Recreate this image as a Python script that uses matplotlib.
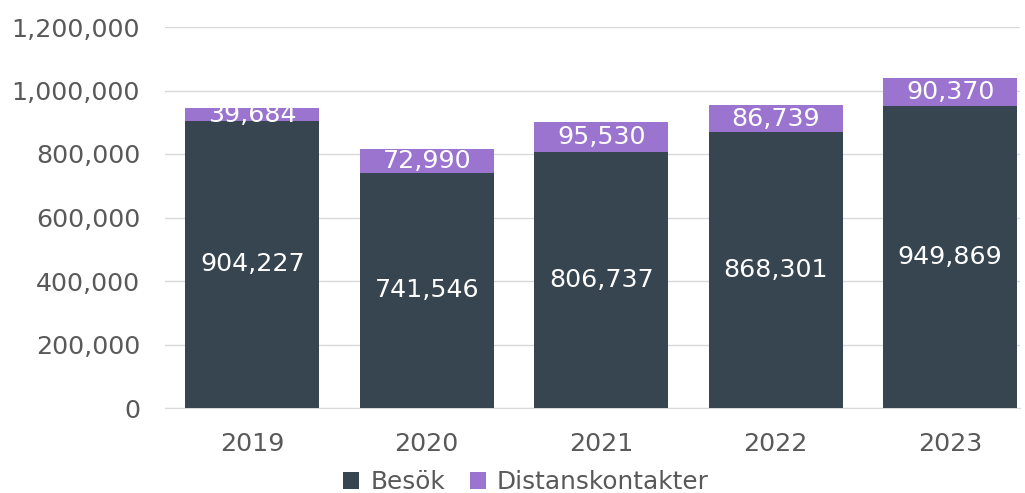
import matplotlib.pyplot as plt
from matplotlib.ticker import FuncFormatter

plt.rcParams["font.family"] = ["DejaVu Sans"]

years = ["2019", "2020", "2021", "2022", "2023"]
besok = [904227, 741546, 806737, 868301, 949869]
distans = [39684, 72990, 95530, 86739, 90370]

dark = "#36454f"
purple = "#9b74cf"
txt = "#595959"
fs = 18.2

fig = plt.figure(figsize=(10.25, 4.93), dpi=100)
ax = fig.add_axes([165 / 1025, 1 - 408 / 493, (1020 - 165) / 1025, (408 - 27) / 493])

x = range(len(years))
b1 = ax.bar(x, besok, width=0.77, color=dark, label="Besök", zorder=3)
b2 = ax.bar(x, distans, width=0.77, bottom=besok, color=purple, label="Distanskontakter", zorder=3)

for i in x:
    ax.text(i, besok[i] / 2, f"{besok[i]:,}", ha="center", va="center",
            color="white", fontsize=fs, zorder=4)
    ax.text(i, besok[i] + distans[i] / 2, f"{distans[i]:,}", ha="center", va="center",
            color="white", fontsize=fs, zorder=4)

ax.set_xlim(-0.5, 4.4)
ax.set_ylim(0, 1200000)
ax.set_yticks(range(0, 1200001, 200000))
ax.yaxis.set_major_formatter(FuncFormatter(lambda v, p: f"{int(v):,}"))
ax.set_xticks(list(x))
ax.set_xticklabels(years)
ax.tick_params(axis="both", length=0, labelsize=fs, labelcolor=txt)
ax.tick_params(axis="x", pad=17)
ax.tick_params(axis="y", pad=18)
ax.grid(axis="y", color="#d9d9d9", linewidth=1, zorder=0)
for s in ["top", "right", "left"]:
    ax.spines[s].set_visible(False)
ax.spines["bottom"].set_color("#d9d9d9")

fig.legend(handles=[b1, b2], loc="center", bbox_to_anchor=(0.513, 1 - 482 / 493), ncol=2,
           frameon=False, fontsize=17.8, labelcolor=txt, handlelength=0.65, handleheight=0.65,
           handletextpad=0.45, columnspacing=1.0, borderpad=0.1)

fig.savefig("out.png", dpi=100)
